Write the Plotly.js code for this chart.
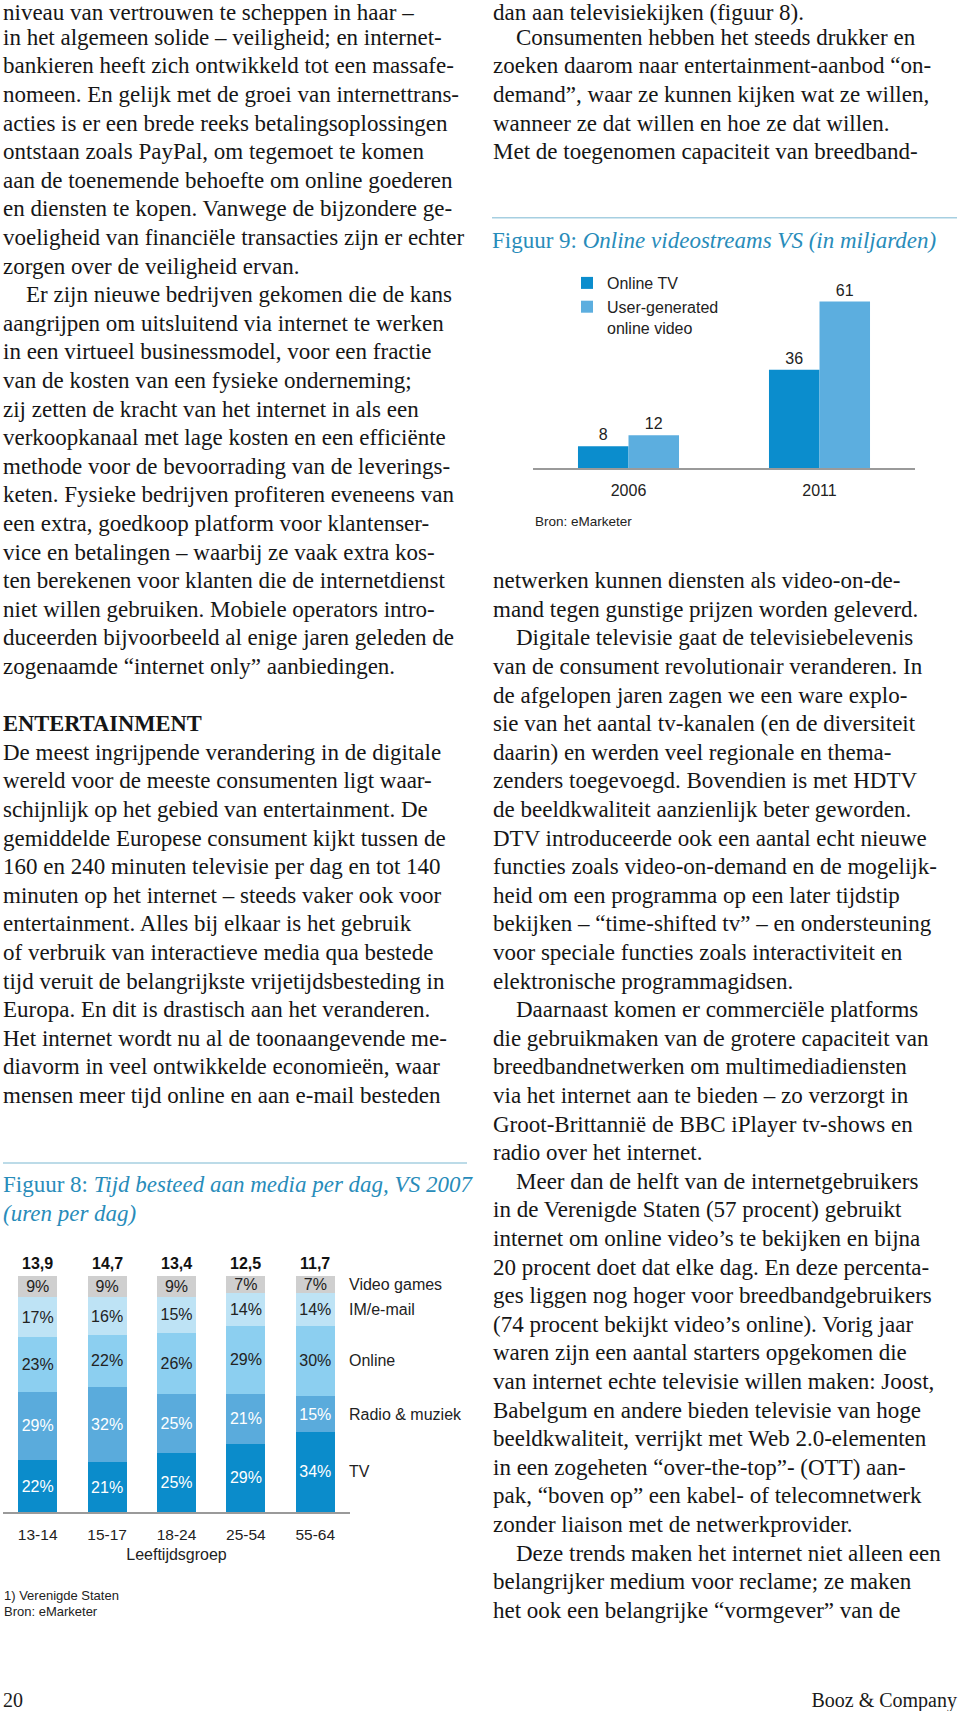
<!DOCTYPE html>
<html><head><meta charset="utf-8">
<script src="https://cdn.plot.ly/plotly-3.0.1.min.js"></script>
<style>
html,body{margin:0;padding:0;background:#fff;}
#page{position:relative;width:960px;height:1711px;overflow:hidden;background:#fff;}
.ln{position:absolute;white-space:nowrap;font-family:'Liberation Serif','Times New Roman',serif;font-size:23px;line-height:18px;color:#161616;}
.hd{font-weight:bold;font-size:22.5px;}
#fig8{position:absolute;left:0;top:1150px;width:480px;height:480px;}
#fig9{position:absolute;left:480px;top:200px;width:480px;height:340px;}
.foot{position:absolute;font-family:'Liberation Serif','Times New Roman',serif;font-size:20px;line-height:24px;color:#1a1a1a;}
</style></head>
<body><div id="page">
<div id="fig8"></div><div id="fig9"></div>
<div class="foot" style="left:3px;top:1688px">20</div>
<div class="foot" style="right:3px;top:1688px">Booz &amp; Company</div>
</div>
<script>
// ---------- Figure 8 data ----------
const ageGroups = ['13-14', '15-17', '18-24', '25-54', '55-64'];
const totalHours = [13.9, 14.7, 13.4, 12.5, 11.7];
const mediaNames = ['TV', 'Radio & muziek', 'Online', 'IM/e-mail', 'Video games'];
const tvShare = [22, 21, 25, 29, 34];
const radioShare = [29, 32, 25, 21, 15];
const onlineShare = [23, 22, 26, 29, 30];
const imShare = [17, 16, 15, 14, 14];
const gamesShare = [9, 9, 9, 7, 7];
const xTitle8 = 'Leeftijdsgroep';

// ---------- Figure 9 data ----------
const streamYears = ['2006', '2011'];
const streamNames = ['Online TV', 'User-generated<br>online video'];
const onlineTV = [8, 36];
const userGenerated = [12, 61];

// ---------- Body text ----------
const leftLines = [
 [0,'niveau van vertrouwen te scheppen in haar –'],
 [1,'in het algemeen solide – veiligheid; en internet-'],
 [2,'bankieren heeft zich ontwikkeld tot een massafe-'],
 [3,'nomeen. En gelijk met de groei van internettrans-'],
 [4,'acties is er een brede reeks betalingsoplossingen'],
 [5,'ontstaan zoals PayPal, om tegemoet te komen'],
 [6,'aan de toenemende behoefte om online goederen'],
 [7,'en diensten te kopen. Vanwege de bijzondere ge-'],
 [8,'voeligheid van financiële transacties zijn er echter'],
 [9,'zorgen over de veiligheid ervan.'],
 [10,'Er zijn nieuwe bedrijven gekomen die de kans','i'],
 [11,'aangrijpen om uitsluitend via internet te werken'],
 [12,'in een virtueel businessmodel, voor een fractie'],
 [13,'van de kosten van een fysieke onderneming;'],
 [14,'zij zetten de kracht van het internet in als een'],
 [15,'verkoopkanaal met lage kosten en een efficiënte'],
 [16,'methode voor de bevoorrading van de leverings-'],
 [17,'keten. Fysieke bedrijven profiteren eveneens van'],
 [18,'een extra, goedkoop platform voor klantenser-'],
 [19,'vice en betalingen – waarbij ze vaak extra kos-'],
 [20,'ten berekenen voor klanten die de internetdienst'],
 [21,'niet willen gebruiken. Mobiele operators intro-'],
 [22,'duceerden bijvoorbeeld al enige jaren geleden de'],
 [23,'zogenaamde “internet only” aanbiedingen.'],
 [25,'ENTERTAINMENT','h'],
 [26,'De meest ingrijpende verandering in de digitale'],
 [27,'wereld voor de meeste consumenten ligt waar-'],
 [28,'schijnlijk op het gebied van entertainment. De'],
 [29,'gemiddelde Europese consument kijkt tussen de'],
 [30,'160 en 240 minuten televisie per dag en tot 140'],
 [31,'minuten op het internet – steeds vaker ook voor'],
 [32,'entertainment. Alles bij elkaar is het gebruik'],
 [33,'of verbruik van interactieve media qua bestede'],
 [34,'tijd veruit de belangrijkste vrijetijdsbesteding in'],
 [35,'Europa. En dit is drastisch aan het veranderen.'],
 [36,'Het internet wordt nu al de toonaangevende me-'],
 [37,'diavorm in veel ontwikkelde economieën, waar'],
 [38,'mensen meer tijd online en aan e-mail besteden']
];
const rightLines = [
 [0,'dan aan televisiekijken (figuur 8).'],
 [1,'Consumenten hebben het steeds drukker en','i'],
 [2,'zoeken daarom naar entertainment-aanbod “on-'],
 [3,'demand”, waar ze kunnen kijken wat ze willen,'],
 [4,'wanneer ze dat willen en hoe ze dat willen.'],
 [5,'Met de toegenomen capaciteit van breedband-'],
 [20,'netwerken kunnen diensten als video-on-de-'],
 [21,'mand tegen gunstige prijzen worden geleverd.'],
 [22,'Digitale televisie gaat de televisiebelevenis','i'],
 [23,'van de consument revolutionair veranderen. In'],
 [24,'de afgelopen jaren zagen we een ware explo-'],
 [25,'sie van het aantal tv-kanalen (en de diversiteit'],
 [26,'daarin) en werden veel regionale en thema-'],
 [27,'zenders toegevoegd. Bovendien is met HDTV'],
 [28,'de beeldkwaliteit aanzienlijk beter geworden.'],
 [29,'DTV introduceerde ook een aantal echt nieuwe'],
 [30,'functies zoals video-on-demand en de mogelijk-'],
 [31,'heid om een programma op een later tijdstip'],
 [32,'bekijken – “time-shifted tv” – en ondersteuning'],
 [33,'voor speciale functies zoals interactiviteit en'],
 [34,'elektronische programmagidsen.'],
 [35,'Daarnaast komen er commerciële platforms','i'],
 [36,'die gebruikmaken van de grotere capaciteit van'],
 [37,'breedbandnetwerken om multimediadiensten'],
 [38,'via het internet aan te bieden – zo verzorgt in'],
 [39,'Groot-Brittannië de BBC iPlayer tv-shows en'],
 [40,'radio over het internet.'],
 [41,'Meer dan de helft van de internetgebruikers','i'],
 [42,'in de Verenigde Staten (57 procent) gebruikt'],
 [43,'internet om online video’s te bekijken en bijna'],
 [44,'20 procent doet dat elke dag. En deze percenta-'],
 [45,'ges liggen nog hoger voor breedbandgebruikers'],
 [46,'(74 procent bekijkt video’s online). Vorig jaar'],
 [47,'waren zijn een aantal starters opgekomen die'],
 [48,'van internet echte televisie willen maken: Joost,'],
 [49,'Babelgum en andere bieden televisie van hoge'],
 [50,'beeldkwaliteit, verrijkt met Web 2.0-elementen'],
 [51,'in een zogeheten “over-the-top”- (OTT) aan-'],
 [52,'pak, “boven op” een kabel- of telecomnetwerk'],
 [53,'zonder liaison met de netwerkprovider.'],
 [54,'Deze trends maken het internet niet alleen een','i'],
 [55,'belangrijker medium voor reclame; ze maken'],
 [56,'het ook een belangrijke “vormgever” van de']
];

const LH = 28.6, Y0 = 11.7, BOX = 18;
function placeLines(lines, x0) {
  const page = document.getElementById('page');
  lines.forEach(([i, txt, opt]) => {
    const d = document.createElement('div');
    d.className = 'ln' + (opt === 'h' ? ' hd' : '');
    d.style.left = (x0 + (opt === 'i' ? 23 : 0)) + 'px';
    // keep the first line's text box inside the page's top edge
    const t = Y0 + LH * i - 2.5 - BOX / 2 + (i === 0 ? 4 : 0);
    d.style.top = t + 'px';
    d.textContent = txt;
    page.appendChild(d);
  });
}
placeLines(leftLines, 3);
placeLines(rightLines, 493);

const SANS = 'Liberation Sans, Arial, Helvetica, sans-serif';
const SERIF = 'Liberation Serif, Times New Roman, serif';
const TEAL = '#288cba';
const RULE = '#a6cfe1';
const AXIS = '#9a9a9a';
const INK = '#222222';
const cfg = {staticPlot: true, displayModeBar: false};

// ---------- Figure 8 ----------
(function () {
  const top = 1150, W = 480, Hd = 480;
  const M = {l: 3, r: 130, t: 126, b: 118};
  const H = Hd - M.t - M.b, PW = W - M.l - M.r;
  const base = top + M.t + H;
  const py = a => (base - a) / H;
  const px = a => (a - M.l) / PW;

  const series = [tvShare, radioShare, onlineShare, imShare, gamesShare];
  const colors = ['#0b8ccb', '#5aabdc', '#8ccff0', '#bee3f5', '#cfcfcf'];
  const tcolors = ['#ffffff', '#ffffff', INK, INK, INK];
  const traces = series.map((vals, k) => ({
    type: 'bar', name: mediaNames[k], x: ageGroups, y: vals,
    marker: {color: colors[k], line: {width: 0}},
    text: vals.map(v => v + '%'), textposition: 'inside', insidetextanchor: 'middle',
    textangle: 0, constraintext: 'none',
    textfont: {family: SANS, size: 16, color: tcolors[k]},
    hoverinfo: 'skip'
  }));

  const ann = [];
  ann.push({xref: 'paper', yref: 'paper', x: 0, y: py(1185), xanchor: 'left', yanchor: 'middle', xshift: -2,
    showarrow: false, text: 'Figuur 8: <i>Tijd besteed aan media per dag, VS 2007</i>',
    font: {family: SERIF, size: 23, color: TEAL}});
  ann.push({xref: 'paper', yref: 'paper', x: 0, y: py(1213), xanchor: 'left', yanchor: 'middle', xshift: -2,
    showarrow: false, text: '<i>(uren per dag)</i>', font: {family: SERIF, size: 23, color: TEAL}});
  ageGroups.forEach((g, i) => ann.push({x: g, y: 100, xref: 'x', yref: 'y', yanchor: 'middle', yshift: 13,
    showarrow: false, text: '<b>' + totalHours[i].toFixed(1).replace('.', ',') + '</b>',
    font: {family: SANS, size: 16, color: '#111'}}));
  const last = series.map(s => s[s.length - 1]);
  let cum = 0;
  last.forEach((v, k) => {
    ann.push({x: ageGroups[ageGroups.length - 1], y: cum + v / 2, xref: 'x', yref: 'y',
      xanchor: 'left', yanchor: 'middle', xshift: 32, showarrow: false,
      text: mediaNames[k], font: {family: SANS, size: 16, color: INK}});
    cum += v;
  });
  ann.push({xref: 'paper', yref: 'paper', x: 0, y: py(1595), xanchor: 'left', yanchor: 'middle', xshift: -1,
    showarrow: false, text: '1) Verenigde Staten', font: {family: SANS, size: 13, color: INK}});
  ann.push({xref: 'paper', yref: 'paper', x: 0, y: py(1611), xanchor: 'left', yanchor: 'middle', xshift: -1,
    showarrow: false, text: 'Bron: eMarketer', font: {family: SANS, size: 13, color: INK}});

  const layout = {
    width: W, height: Hd, margin: M, paper_bgcolor: '#fff', plot_bgcolor: '#fff',
    barmode: 'stack', bargap: 0.436, showlegend: false,
    font: {family: SANS, color: INK},
    xaxis: {type: 'category', range: [-0.5, 4.5], showline: true, linecolor: AXIS, linewidth: 1.5,
      ticks: '', showgrid: false, zeroline: false, tickfont: {family: SANS, size: 15.5, color: INK},
      ticklabelstandoff: 8, fixedrange: true,
      title: {text: xTitle8, font: {family: SANS, size: 16, color: INK}, standoff: 6}},
    yaxis: {range: [0, 100], visible: false, fixedrange: true},
    annotations: ann,
    shapes: [{type: 'line', xref: 'paper', yref: 'paper', x0: px(3), x1: px(467), y0: py(1163), y1: py(1163),
      line: {color: RULE, width: 1.5}}]
  };
  Plotly.newPlot('fig8', traces, layout, cfg);
})();

// ---------- Figure 9 ----------
(function () {
  const top = 200, left = 480, W = 480, Hd = 340;
  const M = {l: 53, r: 45, t: 77, b: 72};
  const H = Hd - M.t - M.b, PW = W - M.l - M.r;
  const base = top + M.t + H;
  const py = a => (base - a) / H;
  const px = a => (a - left - M.l) / PW;

  const vals = [onlineTV, userGenerated];
  const colors = ['#0b8dcd', '#5caedf'];
  const traces = vals.map((v, k) => ({
    type: 'bar', name: streamNames[k], x: streamYears, y: v,
    marker: {color: colors[k], line: {width: 0}},
    text: v.map(String), textposition: 'outside', cliponaxis: false,
    textfont: {family: SANS, size: 16, color: INK}, hoverinfo: 'skip'
  }));
  const layout = {
    width: W, height: Hd, margin: M, paper_bgcolor: '#fff', plot_bgcolor: '#fff',
    barmode: 'group', bargap: 0.471, bargroupgap: 0,
    font: {family: SANS, color: INK},
    showlegend: true,
    legend: {x: px(567), xanchor: 'left', y: py(266), yanchor: 'top', valign: 'top',
      font: {family: SANS, size: 16, color: INK}, bgcolor: 'rgba(0,0,0,0)', borderwidth: 0,
      traceorder: 'normal', tracegroupgap: 0},
    xaxis: {type: 'category', range: [-0.5, 1.5], showline: true, linecolor: AXIS, linewidth: 1.5,
      ticks: '', showgrid: false, zeroline: false, tickfont: {family: SANS, size: 16, color: INK},
      ticklabelstandoff: 7, fixedrange: true},
    yaxis: {range: [0, 70], visible: false, fixedrange: true},
    annotations: [
      {xref: 'paper', yref: 'paper', x: px(492), y: py(240), xanchor: 'left', yanchor: 'middle', xshift: -2,
        showarrow: false, text: 'Figuur 9: <i>Online videostreams VS (in miljarden)</i>',
        font: {family: SERIF, size: 23, color: TEAL}},
      {xref: 'paper', yref: 'paper', x: px(534), y: py(521), xanchor: 'left', yanchor: 'middle', xshift: -1,
        showarrow: false, text: 'Bron: eMarketer', font: {family: SANS, size: 13.5, color: INK}}
    ],
    shapes: [{type: 'line', xref: 'paper', yref: 'paper', x0: px(492), x1: px(957), y0: py(217.7), y1: py(217.7),
      line: {color: RULE, width: 1.5}}]
  };
  Plotly.newPlot('fig9', traces, layout, cfg);
})();
</script>
</body></html>
